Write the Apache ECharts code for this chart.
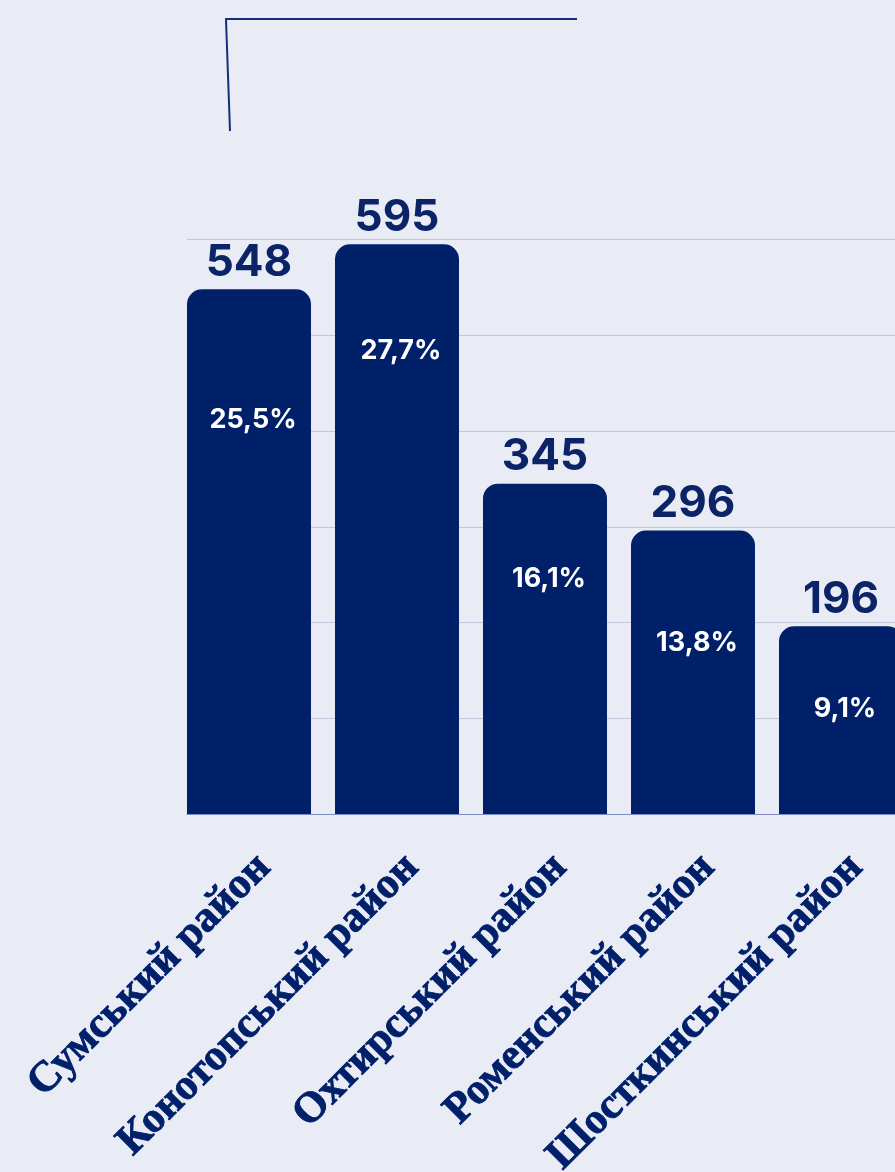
<!DOCTYPE html>
<html>
<head>
<meta charset="utf-8">
<script src="https://cdn.jsdelivr.net/npm/echarts@6/dist/echarts.min.js"></script>
<style>
html,body{margin:0;padding:0;background:#e9ebf5;}
#chart{width:895px;height:1172px;}
</style>
</head>
<body>
<div id="chart"></div>
<script>
const categories = ['Сумський район', 'Конотопський район', 'Охтирський район', 'Роменський район', 'Шосткинський район'];
const values = [548, 595, 345, 296, 196];
const shares = ['25,5%', '27,7%', '16,1%', '13,8%', '9,1%'];

// label placement (style, px from bar top)
const shareLabelY = [131, 107, 95, 112, 83];

const NAVY = '#00206a';
const chart = echarts.init(document.getElementById('chart'));

chart.setOption({
  backgroundColor: '#e9ebf5',
  animation: false,
  graphic: [
    { type: 'line', shape: { x1: 225, y1: 19, x2: 577, y2: 19 }, style: { stroke: '#12307a', lineWidth: 2 } },
    { type: 'line', shape: { x1: 226, y1: 20, x2: 230, y2: 131 }, style: { stroke: '#12307a', lineWidth: 2 } }
  ],
  grid: [
    { left: 175, width: 740, top: 239.5, bottom: 358, containLabel: false, outerBoundsMode: 'none' },
    { left: 187, right: 0, top: 239.5, bottom: 358, containLabel: false, outerBoundsMode: 'none' }
  ],
  xAxis: [
    {
      type: 'category', gridIndex: 0, data: categories,
      axisLine: { show: false }, axisTick: { show: false },
      axisLabel: {
        rotate: 45, margin: 32, interval: 0, verticalAlign: 'top',
        fontFamily: 'Liberation Serif', fontWeight: 'bold', fontSize: 43, color: NAVY,
        textBorderColor: NAVY, textBorderWidth: 0.9
      }
    },
    {
      type: 'category', gridIndex: 1, data: [''],
      axisLine: { show: true, lineStyle: { color: '#7d8bc2', width: 1 } },
      axisTick: { show: false }, axisLabel: { show: false }
    }
  ],
  yAxis: [
    { type: 'value', gridIndex: 0, min: 0, max: 600, interval: 100, show: false, splitLine: { show: false } },
    {
      type: 'value', gridIndex: 1, min: 0, max: 600, interval: 100,
      axisLine: { show: false }, axisTick: { show: false }, axisLabel: { show: false },
      splitLine: { show: true, lineStyle: { color: '#c3c7dc', width: 1 } }
    }
  ],
  series: [
    {
      type: 'bar', xAxisIndex: 0, yAxisIndex: 0,
      barWidth: 124,
      data: values.map((v, i) => ({
        value: v,
        label: {
          show: true, position: 'top', distance: 5,
          formatter: String(v),
          fontFamily: 'Inter', fontWeight: 'bold', fontSize: 44, color: '#0b2468'
        }
      })),
      itemStyle: { color: NAVY, borderRadius: [15, 15, 0, 0] },
      z: 3
    },
    {
      type: 'bar', xAxisIndex: 0, yAxisIndex: 0,
      barWidth: 124, barGap: '-100%',
      data: values.map((v, i) => ({
        value: v,
        label: {
          show: true, position: [66, shareLabelY[i]], align: 'center', verticalAlign: 'middle',
          formatter: shares[i],
          fontFamily: 'Inter', fontWeight: 'bold', fontSize: 27, color: '#ffffff'
        }
      })),
      itemStyle: { color: 'rgba(0,0,0,0)' },
      silent: true,
      z: 4
    }
  ]
});
</script>
</body>
</html>
